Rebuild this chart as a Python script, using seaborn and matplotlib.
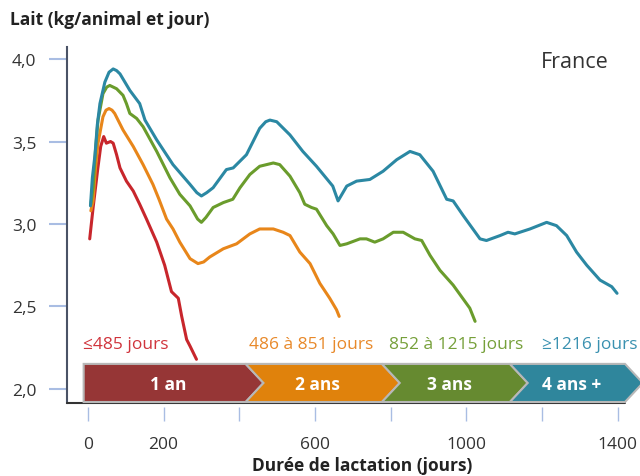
import matplotlib
matplotlib.use("Agg")
import matplotlib.pyplot as plt
from matplotlib.patches import Polygon
import seaborn as sns
import pandas as pd

# lactation curves (days in lactation, kg milk per animal and day)
red_days = [5, 14, 26, 34, 42, 49, 60, 67, 76, 85, 102, 120, 137, 155, 182, 203, 221, 239, 248, 261, 270, 287]
red_milk = [2.91, 3.10, 3.33, 3.47, 3.53, 3.49, 3.50, 3.49, 3.42, 3.34, 3.26, 3.20, 3.12, 3.03, 2.89, 2.75,
            2.59, 2.55, 2.44, 2.30, 2.26, 2.18]

orange_days = [8, 14, 20, 27, 40, 48, 56, 64, 71, 93, 120, 146, 172, 188, 208, 225, 243, 270, 291, 306, 322,
               358, 393, 428, 454, 490, 516, 534, 560, 587, 613, 639, 657, 664]
orange_milk = [3.08, 3.14, 3.33, 3.49, 3.65, 3.69, 3.70, 3.69, 3.67, 3.57, 3.47, 3.36, 3.24, 3.15, 3.03, 2.97,
               2.89, 2.79, 2.76, 2.77, 2.80, 2.85, 2.88, 2.94, 2.97, 2.97, 2.95, 2.93, 2.83, 2.76, 2.64, 2.55,
               2.48, 2.44]

green_days = [8, 14, 20, 27, 40, 50, 58, 67, 76, 93, 102, 111, 129, 146, 182, 217, 243, 270, 290, 300, 312,
              331, 358, 383, 402, 428, 454, 490, 507, 534, 560, 573, 591, 604, 631, 648, 666, 684, 719, 736,
              758, 780, 807, 833, 864, 882, 904, 930, 965, 1009, 1023]
green_milk = [3.12, 3.22, 3.44, 3.63, 3.79, 3.83, 3.84, 3.83, 3.82, 3.78, 3.73, 3.67, 3.64, 3.59, 3.44, 3.28,
              3.18, 3.11, 3.03, 3.01, 3.04, 3.10, 3.13, 3.15, 3.22, 3.30, 3.35, 3.37, 3.36, 3.29, 3.19, 3.12,
              3.10, 3.09, 2.99, 2.94, 2.87, 2.88, 2.91, 2.91, 2.89, 2.91, 2.95, 2.95, 2.91, 2.90, 2.81, 2.72,
              2.63, 2.49, 2.41]

teal_days = [7, 12, 19, 25, 32, 45, 56, 67, 76, 85, 111, 137, 151, 182, 225, 270, 288, 300, 314, 331, 366,
             384, 419, 454, 470, 481, 499, 534, 568, 604, 647, 661, 684, 710, 745, 780, 816, 851, 877, 912,
             948, 965, 992, 1036, 1053, 1089, 1110, 1128, 1168, 1212, 1238, 1265, 1291, 1318, 1353, 1384,
             1398]
teal_milk = [3.11, 3.28, 3.42, 3.60, 3.73, 3.86, 3.92, 3.94, 3.93, 3.91, 3.81, 3.73, 3.63, 3.51, 3.36, 3.24,
             3.19, 3.17, 3.19, 3.22, 3.33, 3.34, 3.42, 3.58, 3.62, 3.63, 3.62, 3.54, 3.44, 3.35, 3.23, 3.14,
             3.23, 3.26, 3.27, 3.32, 3.39, 3.44, 3.42, 3.32, 3.15, 3.14, 3.05, 2.91, 2.90, 2.93, 2.95, 2.94,
             2.97, 3.01, 2.99, 2.93, 2.83, 2.75, 2.66, 2.62, 2.58]

groups = ["≤485 jours", "486 à 851 jours", "852 à 1215 jours", "≥1216 jours"]
ages = ["1 an", "2 ans", "3 ans", "4 ans +"]
x_ticks = [0, 200, 400, 600, 800, 1000, 1200, 1400]
x_ticklabels = ["0", "200", "", "600", "", "1000", "", "1400"]
y_ticks = [2.0, 2.5, 3.0, 3.5, 4.0]
y_ticklabels = ["2,0", "2,5", "3,0", "3,5", "4,0"]

line_colors = ["#c8262c", "#e8861a", "#6a9c2c", "#2b88a3"]
label_colors = ["#d0343c", "#e8892a", "#76a03a", "#3a91b0"]
arrow_colors = ["#963636", "#e0820c", "#668a30", "#2f869c"]

sns.set_theme(style="white")
plt.rcParams["font.family"] = ["Open Sans", "DejaVu Sans"]

fig = plt.figure(figsize=(6.4, 4.77), dpi=100)
ax = fig.add_axes([67 / 640, 73 / 477, 558 / 640, 356 / 477])

curves = [(red_days, red_milk), (orange_days, orange_milk), (green_days, green_milk), (teal_days, teal_milk)]
for (d, m), c in zip(curves, line_colors):
    df = pd.DataFrame({"jours": d, "lait": m})
    sns.lineplot(data=df, x="jours", y="lait", color=c, linewidth=2.2, ax=ax,
                 solid_capstyle="round", solid_joinstyle="round", zorder=3)

ax.set_xlim(-55, 1419)
ax.set_ylim(1.915, 4.073)

# timeline arrows at the bottom
top, bot = 2.152, 1.921
mid = (top + bot) / 2
depth = 47
seg_edges = [-11, 417, 777, 1115, 1419]
for i, (lab, col) in enumerate(zip(ages, arrow_colors)):
    L, R = seg_edges[i], seg_edges[i + 1]
    pts = [(L, top), (R, top), (R + depth, mid), (R, bot), (L, bot)]
    if i > 0:
        pts.append((L + depth, mid))
    ax.add_patch(Polygon(pts, closed=True, facecolor=col, edgecolor="#b8b8b8",
                         linewidth=1.5, joinstyle="miter", clip_on=False, zorder=5))
    ax.text((L + R) / 2 + 10, mid - 0.005, lab, color="white", fontsize=12.5, fontweight="bold",
            ha="center", va="center", zorder=6)

label_x = [100, 590, 972, 1326]
for lab, xx, col in zip(groups, label_x, label_colors):
    ax.text(xx, 2.273, lab, color=col, fontsize=12.5, ha="center", va="center", zorder=4)

# axes styling
ax.set_xticks(x_ticks)
ax.set_xticklabels(x_ticklabels)
ax.set_yticks(y_ticks)
ax.set_yticklabels(y_ticklabels)
ax.set_xlabel("")
ax.set_ylabel("")
ax.tick_params(axis="y", direction="out", length=13, width=1.5, color="#a9bde3",
               labelsize=12.5, labelcolor="#333333", pad=9, left=True)
ax.tick_params(axis="x", direction="out", length=10, width=1.0, color="#a9bde3",
               labelsize=12.5, labelcolor="#333333", pad=11, bottom=True)
for s in ["top", "right"]:
    ax.spines[s].set_visible(False)
ax.spines["left"].set_color("#4a5366")
ax.spines["left"].set_linewidth(1.5)
ax.spines["bottom"].set_position(("outward", 3))
ax.spines["bottom"].set_visible(False)
ax.axhline(1.915, color="#333333", linewidth=1.5, clip_on=False, zorder=4)

fig.text(10 / 640, 1 - 20 / 477, "Lait (kg/animal et jour)", fontsize=12.5, fontweight="bold",
         color="#222222", ha="left", va="center")
fig.text(362 / 640, 1 - 466 / 477, "Durée de lactation (jours)", fontsize=12.5, fontweight="bold",
         color="#222222", ha="center", va="center")
fig.text(575 / 640, 1 - 63 / 477, "France", fontsize=15.5, color="#333333", ha="center", va="center")

fig.savefig("out.png", dpi=100)
